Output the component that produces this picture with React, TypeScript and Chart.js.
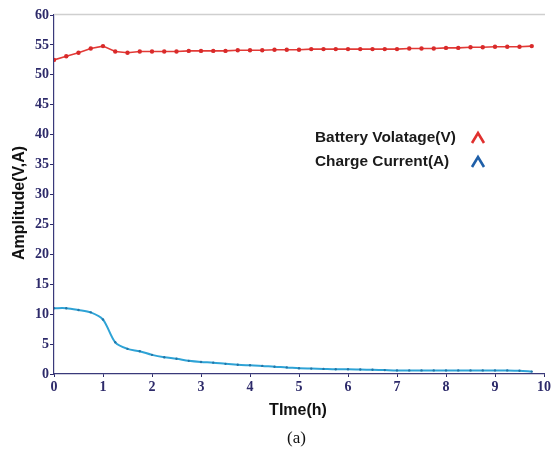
import React, { useEffect, useRef } from "react";
import { Chart, registerables } from "chart.js";

Chart.register(...registerables);

const timeH = [0, 0.25, 0.5, 0.75, 1, 1.25, 1.5, 1.75, 2, 2.25, 2.5, 2.75, 3, 3.25, 3.5, 3.75, 4, 4.25, 4.5, 4.75, 5, 5.25, 5.5, 5.75, 6, 6.25, 6.5, 6.75, 7, 7.25, 7.5, 7.75, 8, 8.25, 8.5, 8.75, 9, 9.25, 9.5, 9.75];
const batteryVoltage = [52.5, 53.1, 53.7, 54.4, 54.8, 53.9, 53.7, 53.9, 53.9, 53.9, 53.9, 54.0, 54.0, 54.0, 54.0, 54.1, 54.1, 54.1, 54.2, 54.2, 54.2, 54.3, 54.3, 54.3, 54.3, 54.3, 54.3, 54.3, 54.3, 54.4, 54.4, 54.4, 54.5, 54.5, 54.6, 54.6, 54.7, 54.7, 54.7, 54.8];
const chargeCurrent = [11.0, 11.0, 10.7, 10.3, 9.1, 5.3, 4.2, 3.8, 3.2, 2.8, 2.55, 2.2, 2.0, 1.9, 1.7, 1.55, 1.45, 1.35, 1.2, 1.1, 0.95, 0.9, 0.85, 0.8, 0.8, 0.75, 0.7, 0.65, 0.6, 0.6, 0.6, 0.6, 0.6, 0.6, 0.6, 0.6, 0.6, 0.6, 0.55, 0.4];
const legendLabels = ["Battery Volatage(V)", "Charge Current(A)"];
const xTitle = "TIme(h)";
const yTitle = "Amplitude(V,A)";
const caption = "(a)";

const tickColor = "#2d2a6a";
const tickFont = { family: "Liberation Serif", size: 14, weight: "bold" as const };

const decorPlugin = {
  id: "decor",
  afterDraw(chart: any) {
    const ctx = chart.ctx;
    const a = chart.chartArea;
    ctx.save();
    // top border
    ctx.strokeStyle = "#cfcfcf";
    ctx.lineWidth = 1.5;
    ctx.beginPath();
    ctx.moveTo(a.left, a.top - 0.5);
    ctx.lineTo(a.right + 1, a.top - 0.5);
    ctx.stroke();
    // axis titles
    ctx.fillStyle = "#111";
    ctx.font = "bold 16px 'Liberation Sans'";
    ctx.textAlign = "center";
    ctx.textBaseline = "middle";
    ctx.fillText(xTitle, 298, 411);
    ctx.save();
    ctx.translate(20, 203);
    ctx.rotate(-Math.PI / 2);
    ctx.fillText(yTitle, 0, 0);
    ctx.restore();
    // legend
    const colors = ["#e0302e", "#1f5fa8"];
    ctx.textAlign = "left";
    ctx.font = "bold 15.4px 'Liberation Sans'";
    legendLabels.forEach((lbl, i) => {
      const y = 138 + i * 24;
      ctx.fillStyle = "#1a1a1a";
      ctx.fillText(lbl, 315, y);
      ctx.strokeStyle = colors[i];
      ctx.lineWidth = 2.6;
      ctx.lineJoin = "miter";
      ctx.beginPath();
      ctx.moveTo(472, y + 5);
      ctx.lineTo(478, y - 5);
      ctx.lineTo(484, y + 5);
      ctx.stroke();
    });
    ctx.restore();
  },
};

export default function App() {
  const ref = useRef<HTMLCanvasElement>(null);
  useEffect(() => {
    if (!ref.current) return;
    const chart = new Chart(ref.current, {
      type: "line",
      data: {
        datasets: [
          {
            label: legendLabels[0],
            data: timeH.map((t, i) => ({ x: t, y: batteryVoltage[i] })),
            borderColor: "#e23a36",
            backgroundColor: "#d92a2a",
            borderWidth: 1.6,
            pointRadius: 2.2,
            pointBorderWidth: 0,
            tension: 0,
          },
          {
            label: legendLabels[1],
            data: timeH.map((t, i) => ({ x: t, y: chargeCurrent[i] })),
            borderColor: "#2ea3d6",
            backgroundColor: "#2376a8",
            borderWidth: 2,
            pointRadius: 1.2,
            pointBorderWidth: 0,
            tension: 0.3,
          },
        ],
      },
      options: {
        animation: false,
        responsive: false,
        maintainAspectRatio: false,
        layout: { padding: { top: 15, right: 9, left: 0, bottom: 0 } },
        plugins: { legend: { display: false }, tooltip: { enabled: false } },
        scales: {
          x: {
            type: "linear",
            min: 0,
            max: 10,
            ticks: { stepSize: 1, color: tickColor, font: tickFont, padding: 2 },
            grid: { drawOnChartArea: false, tickLength: 3, color: tickColor },
            border: { display: true, color: "#3a3a7a", width: 1.2, dash: [1, 2.5] },
            afterFit: (s: any) => { s.height = 78; },
          },
          y: {
            min: 0,
            max: 60,
            ticks: { stepSize: 5, color: tickColor, font: tickFont, padding: 1 },
            grid: { drawOnChartArea: false, tickLength: 4, color: tickColor },
            border: { display: true, color: "#3a3a7a", width: 1.2, dash: [1, 2.5] },
            afterFit: (s: any) => { s.width = 54; },
          },
        },
      },
      plugins: [decorPlugin],
    });
    return () => chart.destroy();
  }, []);
  return (
    <div style={{ position: "absolute", left: 0, top: 0, width: 553, height: 452, background: "#fff" }}>
      <canvas ref={ref} width={553} height={452} style={{ display: "block" }} />
      <div style={{ position: "absolute", left: 0, width: 553, top: 428, textAlign: "center", fontFamily: "'Liberation Serif', serif", fontSize: 17, color: "#111", paddingLeft: 40, boxSizing: "border-box" }}>{caption}</div>
    </div>
  );
}
